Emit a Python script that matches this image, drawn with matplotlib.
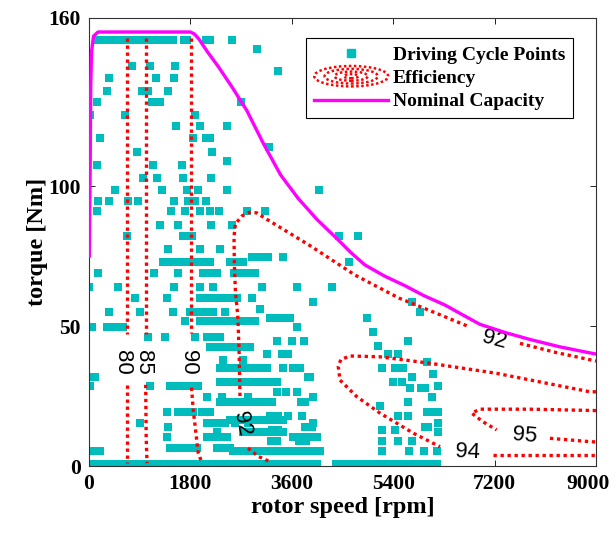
import numpy as np
import matplotlib
matplotlib.use("Agg")
from matplotlib import pyplot as plt
from matplotlib import transforms
from matplotlib.lines import Line2D
from matplotlib.patches import Ellipse
from matplotlib.legend_handler import HandlerBase

# driving cycle operating points, grouped by torque level (Nm) -> speeds (rpm)
cycle_nm = [152, 149, 143, 141, 138.6, 134, 130, 125.5, 121.5, 117, 114, 112, 109,
            107.5, 103, 98.5, 94.5, 91, 86, 82, 77.5, 74.5, 73, 69, 64, 60, 58.5, 56, 55,
            53, 51.8, 49.5, 48, 46, 44.5, 43, 42.5, 40, 38, 37, 35, 33, 31.8, 30, 28.6,
            27.8, 26.4, 24.6, 22.9, 21.4, 19.3, 18, 16.4, 15.5, 14, 13, 12, 10.4, 8.8,
            6.4, 5.4, 0.6]
cycle_rpm = [
    [160, 240, 320, 400, 480, 560, 640, 720, 800, 880, 960, 1040, 1120, 1200, 1280,
     1360, 1440, 1490, 1680, 1740, 2080, 2150, 2538],
    [2982],
    [763, 1083, 1527],
    [3355],
    [355, 1189, 1509],
    [320, 941, 1047, 1402],
    [142, 1118, 1260, 2698],
    [18, 639, 1882],
    [1544, 1970, 2450],
    [195, 1846, 2080, 2150],
    [3195],
    [852, 2183],
    [2450],
    [142, 1136, 1651],
    [959, 1207, 1669, 2166],
    [462, 1296, 1740, 1935, 2450, 4083],
    [160, 355, 692, 870, 1509, 1757, 1882, 2077],
    [142, 1456, 1704, 1970, 2148, 2308, 2805, 3124],
    [1260, 1580, 2166, 2538],
    [675, 1670, 1740, 1820, 4438, 4775],
    [1402, 1970, 2325],
    [2893, 3035, 3100, 3177, 3444],
    [1314, 1400, 1500, 1580, 1700, 1793, 1935, 2040, 2148, 2503, 2620, 2734, 4615],
    [160, 1154, 1580, 2023, 2100, 2183, 2272, 2574, 2627, 2740, 2822, 2946],
    [0, 515, 1509, 1970, 2201, 3071, 3692, 4313],
    [817, 1385, 1970, 2060, 2150, 2250, 2361, 2450, 2550, 2627, 2893],
    [3976, 5733],
    [3035],
    [355, 906, 1491, 1793, 1900, 2000, 2100, 2201, 2414, 5875],
    [3213, 3300, 3400, 3500, 3568, 4935],
    [1704, 1970, 2050, 2150, 2250, 2350, 2450, 2550, 2650, 2750, 2850, 2946],
    [53, 320, 400, 500, 604, 3692],
    [5041],
    [1047, 1349, 1882, 2095, 2200, 2325],
    [3337, 3603, 3816, 5662],
    [5130],
    [2148, 2250, 2350, 2450, 2550, 2650, 2750, 2858],
    [3160, 3426, 3532, 5307, 5485],
    [2379, 2734],
    [6000],
    [2325, 2450, 2550, 2650, 2750, 2850, 2950, 3060, 3160, 3444, 3621, 3745, 5201,
     5432, 5574],
    [6106],
    [18, 106, 3887, 3923, 5733],
    [2325, 2450, 2550, 2650, 2750, 2850, 2950, 3060, 3160, 3250, 3337, 5396, 5556],
    [18, 1083, 1438, 1527, 1669, 1800, 1935, 6195],
    [5698, 5900, 5960],
    [3337, 3497, 3692],
    [2095, 2361, 2822, 3976, 6088],
    [2325, 2450, 2550, 2650, 2750, 2850, 2950, 3089, 3200, 3248, 3760, 3840, 5662],
    [5165],
    [1385, 1580, 1700, 1850, 2000, 2095, 2148, 6000, 6050, 6195],
    [3213, 3355, 3532, 3781, 5485, 5662],
    [2503, 2600, 2700, 2800, 2900, 3000, 3100, 3200, 3300, 3444],
    [906, 2095, 2200, 2300, 2414, 2592, 2822, 3976, 6195],
    [1402, 3830, 3950, 5964, 6020],
    [3250, 3350, 5201, 5432],
    [2272, 2734, 2830, 2930, 3030, 3130, 3230, 3330, 3444, 6195],
    [1385, 2095, 2200, 2300, 2450, 3621, 3700, 3800, 3900, 4047],
    [3230, 3284, 3330, 3720, 3781, 3850, 5201, 5485, 5733],
    [1438, 1540, 1651, 1750, 1850, 1917, 2272, 2414, 2503],
    [18, 106, 195, 2556, 2650, 2750, 2850, 2950, 3050, 3150, 3250, 3390, 3444, 3550,
     3650, 3750, 3870, 3950, 4100, 5201, 5680, 5946, 6177],
    [0, 90, 180, 270, 360, 450, 540, 630, 720, 810, 900, 990, 1080, 1170, 1260, 1350,
     1440, 1530, 1620, 1710, 1800, 1890, 1980, 2070, 2160, 2250, 2340, 2430, 2520,
     2610, 2700, 2790, 2880, 2970, 3060, 3150, 3240, 3330, 3420, 3510, 3600, 3690,
     3780, 3870, 3960, 4050, 4380, 4470, 4560, 4650, 4740, 4830, 4920, 5010, 5100,
     5190, 5280, 5370, 5460, 5550, 5640, 5730, 5820, 5910, 6000, 6090, 6180],
]

# nominal torque envelope
cap_rpm = [5, 20, 30, 45, 80, 160, 1800, 1870, 1950, 2100, 2300, 2550, 2800, 3100,
           3400, 3716, 4050, 4396, 4650, 4899, 5250, 5609, 5950, 6319, 6650, 6941,
           7400, 7828, 8350, 8893, 9000]
cap_nm = [75, 105, 135, 148, 153.5, 155, 155, 154.3, 152.5, 148, 142.5, 135, 127,
          115, 104, 95.5, 88, 81.3, 76.2, 71.8, 67.8, 64.4, 60.8, 57.5, 53.8, 50.6,
          47.6, 45.2, 42.6, 40.4, 40]

# efficiency iso-lines (each broken where its label sits)
eff_lines = [
    ([675, 675], [153, 47]), ([675, 675], [29, 1]),
    ([1006, 1006], [153, 47]), ([1006, 1015, 1030], [29, 10, 1]),
    ([1810, 1810], [153, 47.5]), ([1820, 1850, 1882, 1935, 2006], [28, 20, 14.6, 5, 1]),
    ([2822, 3000, 3213], [6.4, 3.5, 1.5]),
    ([2680, 2663, 2640, 2600, 2580, 2574, 2600, 2716, 2850, 2980, 3124, 3900, 4722,
      5500, 6319, 6763],
     [25, 42, 54, 62, 72, 82, 86.5, 89.3, 90.6, 90.4, 88.5, 79, 68.2, 60, 53.3, 49.6]),
    ([7651, 8300, 9000], [43.8, 40.5, 37.5]),
    ([9000, 8893, 7236, 6053, 5165, 4633, 4470, 4425, 4455, 4752, 5165, 5751, 6230],
     [26.5, 26.5, 33.1, 36.7, 39, 39.3, 38, 35.5, 30.7, 24.8, 18.9, 11.8, 6.9]),
    ([7172, 8893, 9000], [3.9, 3.9, 3.9]),
    ([9000, 7828, 6941, 6793, 6994, 7236], [19.8, 20.3, 20.3, 18.9, 15.8, 12.9]),
    ([8183, 8893, 9000], [9.9, 8.7, 8.6]),
]
eff_labels = ["80", "85", "90", "92", "92", "94", "95"]
label_rpm = [590, 960, 1775, 2716, 7190, 6718, 7730]
label_nm = [37, 37, 37, 15, 45, 5, 10.7]
label_rot = [-90, -90, -90, -78, -15, -3, -5]

xticks = [0, 1800, 3600, 5400, 7200, 9000]
yticks = [0, 50, 100, 160]

cyan = "#00BDBD"
serif = "Liberation Serif"


class ContourHandle(HandlerBase):
    # legend icon: nested dotted ellipses
    def create_artists(self, legend, orig_handle, xdescent, ydescent, width, height,
                       fontsize, trans):
        cx = width / 2 - xdescent
        cy = height / 2 - ydescent
        arts = []
        for f in (1.0, 0.72, 0.45, 0.2):
            e = Ellipse((cx, cy), width * f, height * 1.5 * f, fill=False,
                        edgecolor="red", linestyle=(0, (1, 1)), lw=1.8)
            e.set_transform(trans)
            arts.append(e)
        return arts


fig = plt.figure(figsize=(6.16, 5.34), dpi=100)
ax = fig.add_axes([0.1445, 0.1273, 0.823, 0.839])

xs, ys = [], []
for nm, rpms in zip(cycle_nm, cycle_rpm):
    xs += rpms
    ys += [nm] * len(rpms)
ax.scatter(xs, ys, s=28, marker="s", color=cyan, linewidths=0, zorder=2)

for rx, ry in eff_lines:
    ax.plot(rx, ry, color="red", lw=2.4, linestyle=(0, (1, 1.1)), zorder=3)

for txt, x, y, r in zip(eff_labels, label_rpm, label_nm, label_rot):
    ax.text(x, y, txt, rotation=r, ha="center", va="center", fontsize=16,
            family="Liberation Sans", zorder=4)

ax.plot(cap_rpm, cap_nm, color="magenta", lw=2.4, zorder=5)

ax.set_xlim(0, 9000)
ax.set_ylim(0, 160)
ax.set_xticks(xticks)
ax.set_yticks(yticks)
ax.tick_params(direction="in", top=True, right=True, length=4, width=0.6, pad=6)
for lab in ax.get_xticklabels() + ax.get_yticklabels():
    lab.set_family(serif)
    lab.set_fontweight("bold")
    lab.set_fontsize(15.5)
# keep the last speed label inside the figure
last = ax.get_xticklabels()[-1]
last.set_transform(last.get_transform() +
                   transforms.ScaledTranslation(-6 / 72, 0, fig.dpi_scale_trans))
for sp in ax.spines.values():
    sp.set_linewidth(0.8)
    sp.set_color("#333333")

ax.set_xlabel("rotor speed [rpm]", family=serif, fontweight="bold", fontsize=17.5, labelpad=2)
ax.set_ylabel("torque [Nm]", family=serif, fontweight="bold", fontsize=17.5, labelpad=0)

h_pts = Line2D([], [], marker="s", color=cyan, linestyle="none", markersize=6)
h_eff = Line2D([], [], color="red")
h_cap = Line2D([], [], color="magenta", lw=2.4)
leg = ax.legend([h_pts, h_eff, h_cap], ["Driving Cycle Points", "Efficiency", "Nominal Capacity"],
                loc="upper right", bbox_to_anchor=(0.955, 0.955), borderaxespad=0,
                handler_map={h_eff: ContourHandle()}, handlelength=3.8, handletextpad=0.25,
                labelspacing=0.3, borderpad=0.4, fancybox=False, edgecolor="black",
                framealpha=1, prop={"family": serif, "weight": "bold", "size": 14})
leg.get_frame().set_linewidth(0.8)

fig.savefig("out.png", dpi=100)
